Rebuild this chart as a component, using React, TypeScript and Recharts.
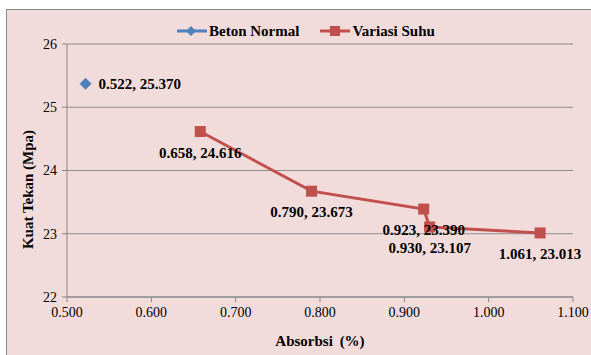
import { CartesianGrid, Line, LineChart, XAxis, YAxis } from "recharts";

const betonX = [0.522];
const betonY = [25.37];
const suhuX = [0.658, 0.79, 0.923, 0.93, 1.061];
const suhuY = [24.616, 23.673, 23.39, 23.107, 23.013];
const xTicks = [0.5, 0.6, 0.7, 0.8, 0.9, 1.0, 1.1];
const yTicks = [22, 23, 24, 25, 26];

const betonData = betonX.map((x, i) => ({ x, y: betonY[i] }));
const suhuData = suhuX.map((x, i) => ({ x, y: suhuY[i] }));

const BLUE = "#4f81bd";
const RED = "#c0504d";
const FONT = "Liberation Serif, Times New Roman, serif";

function Diamond({ cx, cy }: { cx?: number; cy?: number }) {
  if (cx == null || cy == null) return null;
  const r = 6;
  return <path d={`M${cx},${cy - r}L${cx + r},${cy}L${cx},${cy + r}L${cx - r},${cy}Z`} fill={BLUE} />;
}

function Square({ cx, cy }: { cx?: number; cy?: number }) {
  if (cx == null || cy == null) return null;
  const s = 11;
  return <rect x={cx - s / 2} y={cy - s / 2} width={s} height={s} fill={RED} />;
}

const fmt = (x: number, y: number) => `${x.toFixed(3)}, ${y.toFixed(3)}`;

function BetonLabel(props: any) {
  const { x, y, index } = props;
  const d = betonData[index];
  return (
    <text x={x + 13} y={y} dominantBaseline="central" fontFamily={FONT} fontSize={15} fontWeight="bold" fill="#000">
      {fmt(d.x, d.y)}
    </text>
  );
}

function SuhuLabel(props: any) {
  const { x, y, index } = props;
  const d = suhuData[index];
  return (
    <text x={x} y={y + 21} textAnchor="middle" dominantBaseline="central" fontFamily={FONT} fontSize={15} fontWeight="bold" fill="#000">
      {fmt(d.x, d.y)}
    </text>
  );
}

function YTitle(props: any) {
  const vb = props.viewBox || {};
  const cx = 28;
  const cy = vb.y + vb.height / 2 + 19;
  return (
    <text
      x={cx}
      y={cy}
      transform={`rotate(-90 ${cx} ${cy})`}
      textAnchor="middle"
      dominantBaseline="central"
      fontFamily={FONT}
      fontSize={15}
      fontWeight="bold"
      fill="#000"
    >
      Kuat Tekan (Mpa)
    </text>
  );
}

function LegendBox() {
  const text = { fontFamily: FONT, fontSize: 15, fontWeight: "bold" as const, color: "#000" };
  return (
    <div style={{ position: "absolute", left: 177, top: 23, display: "flex", alignItems: "center", height: 16 }}>
      <svg width={30} height={14}>
        <line x1={0} y1={7} x2={30} y2={7} stroke={BLUE} strokeWidth={3} />
        <path d="M14,2L19,7L14,12L9,7Z" fill={BLUE} />
      </svg>
      <span style={{ ...text, marginLeft: 2 }}>Beton Normal</span>
      <svg width={30} height={14} style={{ marginLeft: 21 }}>
        <line x1={0} y1={7} x2={30} y2={7} stroke={RED} strokeWidth={3} />
        <rect x={10} y={2} width={10} height={10} fill={RED} />
      </svg>
      <span style={{ ...text, marginLeft: 2 }}>Variasi Suhu</span>
    </div>
  );
}

export default function App() {
  const tick = { fill: "#000", fontSize: 14, fontFamily: FONT };
  return (
    <div style={{ position: "absolute", left: 0, top: 0, width: 591, height: 355, background: "#fff" }}>
      <div
        style={{
          position: "absolute",
          left: 6,
          top: 9,
          width: 585,
          height: 346,
          background: "#f2dcdb",
          borderLeft: "1px solid #8a8a8a",
          borderTop: "1px solid #8a8a8a",
          boxSizing: "border-box",
        }}
      />
      <LegendBox />
      <div style={{ position: "absolute", left: 0, top: 0 }}>
        <LineChart width={591} height={355} margin={{ top: 44, right: 18, bottom: 28, left: 27 }}>
          <CartesianGrid vertical={false} stroke="#8c8c8c" />
          <XAxis
            type="number"
            dataKey="x"
            domain={[0.5, 1.1]}
            ticks={xTicks}
            tickFormatter={(v: number) => v.toFixed(3)}
            stroke="#868686"
            tick={tick}
            tickSize={5}
            tickMargin={5}
            height={30}
            label={{ value: "Absorbsi (%)", position: "insideBottom", offset: -19, fill: "#000", fontSize: 15, fontWeight: "bold", fontFamily: FONT, wordSpacing: 3 }}
            allowDataOverflow
          />
          <YAxis
            type="number"
            dataKey="y"
            domain={[22, 26]}
            ticks={yTicks}
            stroke="#868686"
            tick={tick}
            tickSize={5}
            tickMargin={5}
            width={40}
            label={<YTitle />}
          />
          <Line
            data={betonData}
            dataKey="y"
            name="Beton Normal"
            stroke={BLUE}
            strokeWidth={3}
            dot={<Diamond />}
            label={<BetonLabel />}
            isAnimationActive={false}
          />
          <Line
            data={suhuData}
            dataKey="y"
            name="Variasi Suhu"
            stroke={RED}
            strokeWidth={3}
            dot={<Square />}
            activeDot={false}
            label={<SuhuLabel />}
            isAnimationActive={false}
          />
        </LineChart>
      </div>
    </div>
  );
}
